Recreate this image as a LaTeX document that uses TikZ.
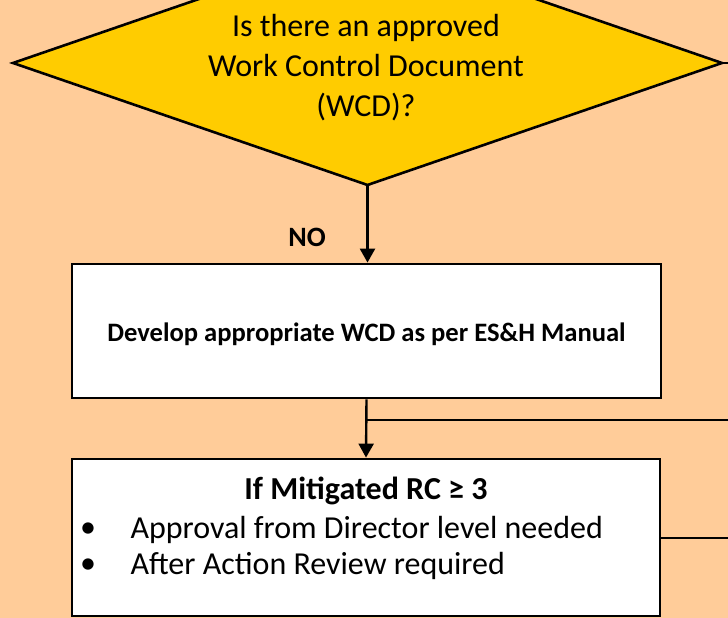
\documentclass[tikz,border=0pt]{standalone}
\usepackage{fontspec}
\setmainfont{Carlito}
\usetikzlibrary{arrows.meta}
\definecolor{peach}{HTML}{FFCC99}
\definecolor{gold}{HTML}{FFCC00}
\begin{document}
\begin{tikzpicture}[x=1pt,y=1pt,
  conn/.style={line width=2.4pt},
  arr/.style={conn,-{Triangle[width=15pt,length=14pt]}},
  boxnode/.style={draw,line width=2.8pt,fill=white,rectangle,inner sep=0pt}]
\useasboundingbox (0,0) rectangle (728,618);
\fill[peach] (0,0) rectangle (728,618);
\begin{scope}
\clip (0,0) rectangle (728,618);
\coordinate (dl) at (13,555);
\coordinate (dt) at (367.5,677);
\coordinate (dr) at (722,555);
\coordinate (db) at (367.5,433);
\draw[fill=gold,line width=2.6pt,line join=miter] (dl) -- (dt) -- (dr) -- (db) -- cycle;
\end{scope}
\coordinate (edgeR) at (728,555);
\draw[conn] (dr) -- (edgeR);
\node[align=center,font=\fontsize{32}{40}\selectfont] (q) at (366,550) {Is there an approved\\Work Control Document\\(WCD)?};
\node[boxnode,minimum width=589pt,minimum height=134pt] (b1) at (366.5,287) {};
\node[font=\bfseries\fontsize{26.6}{30}\selectfont] (t1) at (366.5,284) {Develop appropriate WCD as per ES\&H Manual};
\node[boxnode,minimum width=588pt,minimum height=157pt] (b2) at (366,80.5) {};
\node[font=\bfseries\fontsize{32}{36}\selectfont] (t2) at (366,127) {If Mitigated RC ≥ 3};
\node[font=\fontsize{32}{36}\selectfont,anchor=west] (l1) at (127,88) {Approval from Director level needed};
\node[font=\fontsize{32}{36}\selectfont,anchor=west] (l2) at (127,52) {After Action Review required};
\node[font=\fontsize{32}{36}\selectfont] (u1) at (88,88) {•};
\node[font=\fontsize{32}{36}\selectfont] (u2) at (88,52) {•};
\node[font=\bfseries\fontsize{28}{32}\selectfont] (no) at (307,381) {NO};
\draw[arr] (db) -- (b1.north -| db);
\draw[arr] (b1.south) -- (b2.north);
\coordinate (e1) at (728,198);
\draw[conn] (b1.south |- e1) -- (e1);
\coordinate (e2) at (728,80);
\draw[conn] (b2.east |- e2) -- (e2);
\end{tikzpicture}
\end{document}
